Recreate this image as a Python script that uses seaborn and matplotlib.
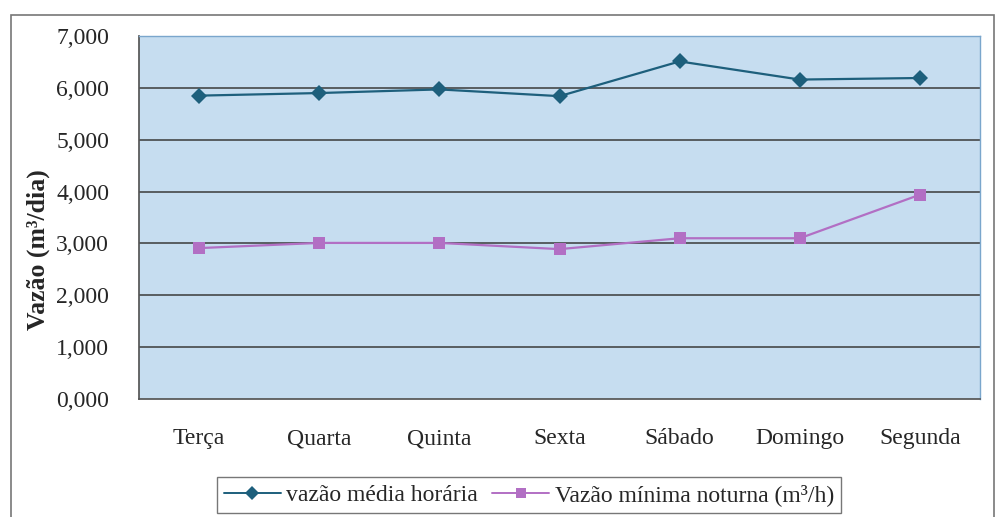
import matplotlib
matplotlib.use("Agg")
import matplotlib.pyplot as plt
import seaborn as sns
import pandas as pd
from matplotlib.patches import Rectangle
from matplotlib.lines import Line2D
from matplotlib.ticker import FixedLocator, FuncFormatter

dias = ["Terça", "Quarta", "Quinta", "Sexta", "Sábado", "Domingo", "Segunda"]
media_horaria = [5850, 5900, 5970, 5840, 6510, 6160, 6190]
minima_noturna = [2910, 3010, 3010, 2890, 3100, 3100, 3940]
serie_media = "vazão média horária"
serie_minima = "Vazão mínima noturna (m³/h)"
y_ticks = [0, 1000, 2000, 3000, 4000, 5000, 6000, 7000]

df = pd.DataFrame({
    "dia": dias * 2,
    "x": list(range(len(dias))) * 2,
    "valor": media_horaria + minima_noturna,
    "serie": [serie_media] * len(dias) + [serie_minima] * len(dias),
})

sns.set_theme(style="white")
plt.rcParams["font.family"] = ["Liberation Serif", "DejaVu Serif"]

fig = plt.figure(figsize=(9.97, 5.17), dpi=100)
ax = fig.add_axes([139 / 997, 1 - 399 / 517, (980 - 139) / 997, (399 - 36) / 517])
ax.set_facecolor("#c6ddf0")

for y in y_ticks[1:]:
    ax.axhline(y, color="#3a3a3a", lw=1.1, zorder=1)

palette = {serie_media: "#1d5f7c", serie_minima: "#b26fc4"}
markers = {serie_media: "D", serie_minima: "s"}
sns.lineplot(data=df, x="x", y="valor", hue="serie", style="serie",
             markers=markers, dashes=False, palette=palette, ax=ax,
             markersize=8, linewidth=1.6, markeredgewidth=0, zorder=3,
             legend=False)

ax.set_xlim(-0.5, len(dias) - 0.5)
ax.set_ylim(0, 7000)
ax.yaxis.set_major_locator(FixedLocator(y_ticks))
ax.yaxis.set_major_formatter(FuncFormatter(lambda v, p: f"{int(v)//1000},000"))
ax.set_xticks(range(len(dias)))
ax.set_xticklabels(dias)
ax.xaxis.set_minor_locator(FixedLocator([i + 0.5 for i in range(-1, len(dias))]))
ax.tick_params(axis="x", which="major", length=0, pad=21, labelsize=17)
ax.tick_params(axis="x", which="minor", length=6, width=1, color="#555555", direction="out")
ax.tick_params(axis="y", which="major", length=6.5, width=1, color="#555555",
               direction="out", labelsize=17, pad=15)
ax.set_xlabel("")
ax.set_ylabel("")
fig.text(38 / 997, 1 - 250 / 517, "Vazão (m³/dia)", rotation=90, fontsize=18.5,
         fontweight="bold", ha="center", va="center")

for side in ["top", "right"]:
    ax.spines[side].set_color("#7aa6cc")
    ax.spines[side].set_linewidth(1.0)
ax.spines["left"].set_color("#555555")
ax.spines["bottom"].set_color("#555555")

handles = [Line2D([], [], color=palette[serie_media], marker="D", markersize=7, lw=1.4, markeredgewidth=0),
           Line2D([], [], color=palette[serie_minima], marker="s", markersize=7, lw=1.4, markeredgewidth=0)]
leg = fig.legend(handles, [serie_media, serie_minima], loc="upper center",
                 bbox_to_anchor=(529 / 997, 1 - 477 / 517), ncol=2, frameon=True,
                 fontsize=17, handlelength=2.4, columnspacing=0.6, handletextpad=0.25,
                 borderpad=0.3, borderaxespad=0, fancybox=False, edgecolor="#555555")
leg.get_frame().set_linewidth(1.0)

fig.patches.append(Rectangle((11 / 997, -0.02), (994 - 11) / 997, 1.02 - 15 / 517,
                             transform=fig.transFigure, fill=False,
                             edgecolor="#777777", lw=1.2))

fig.savefig("out.png", dpi=100)
